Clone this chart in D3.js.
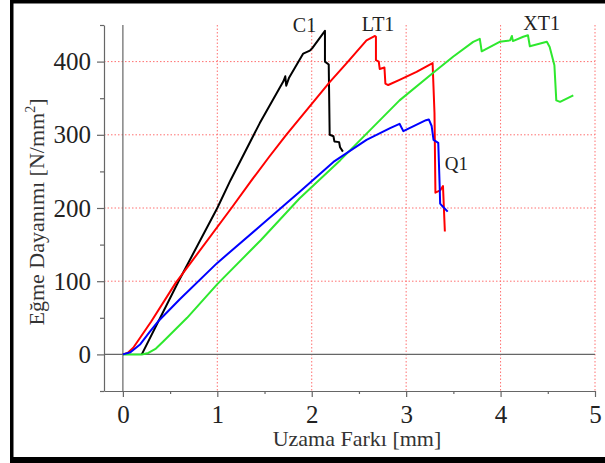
<html>
  <head>
    <meta charset="utf-8">
    <script src="https://d3js.org/d3.v7.min.js"></script>
    <style>
      body { margin: 0; background: #fff; }
      svg text { font-family: "Liberation Serif", "Times New Roman", "DejaVu Serif", serif !important; }
    </style>
  </head>
  <body>
    <div id="my_dataviz"></div>
  </body>

  <script>
    // curves: [Uzama Farkı mm, Eğme Dayanımı N/mm2]
    const C1 = [[0.20,0],[0.59,100],[1.00,200],[1.14,238],[1.45,316],[1.70,373],[1.72,380],[1.73,367],
      [1.76,378],[1.91,411],[1.98,415],[2.01,419],[2.14,442],[2.14,400],[2.18,396],[2.19,300],
      [2.23,298],[2.24,291],[2.29,290],[2.30,283],[2.33,277]]
    const LT1 = [[0,0],[0.05,2],[0.11,9],[0.30,45],[0.556,97],[1.15,200],[1.37,239],[1.55,270],
      [1.73,300],[2.19,372],[2.37,398],[2.58,429],[2.67,435],[2.68,434],[2.68,402],[2.71,400],
      [2.72,390],[2.77,392],[2.78,370],[2.81,368],[2.93,375],[3.11,386],[3.28,398],[3.30,330],
      [3.31,221],[3.36,224],[3.39,230],[3.41,168]]
    const Q1 = [[0,0],[0.08,3],[0.185,14],[0.28,30],[0.38,46],[0.60,75],[1.00,125],[1.46,176],[1.87,222],
      [2.23,263],[2.58,293],[2.83,309],[2.93,315],[2.97,305],[3.21,320],[3.24,321],[3.27,312],
      [3.29,293],[3.34,289],[3.355,230],[3.36,206],[3.38,203],[3.44,195]]
    const XT1 = [[0,0],[0.10,0],[0.20,0],[0.27,2],[0.35,8],[0.43,18],[0.68,50],[1.00,96],[1.46,156],
      [1.87,213],[2.30,265],[2.93,347],[3.28,384],[3.50,407],[3.71,427],[3.78,431],[3.80,414],
      [3.99,427],[4.10,429],[4.12,435],[4.13,428],[4.24,434],[4.29,436],[4.31,421],[4.49,427],
      [4.52,420],[4.57,395],[4.59,347],[4.63,345],[4.77,354]]

    const seriesNames = ['C1', 'LT1', 'XT1', 'Q1']
    const seriesData = [C1, LT1, XT1, Q1]
    const seriesColors = ['#000000', '#ff0000', '#2ee82e', '#0000ff']
    // where each curve name sits, in data units
    const labelAt = [[1.80, 441], [2.53, 442], [4.24, 443], [3.41, 252]]

    const xTicks = [0, 1, 2, 3, 4, 5]
    const xMinor = [0.5, 1.5, 2.5, 3.5, 4.5]
    const yTicks = [0, 100, 200, 300, 400]
    const yMinor = [-50, 50, 150, 250, 350, 450]

    const W = 605, H = 463

    const svg = d3.select("#my_dataviz")
      .append("svg")
        .attr("width", W)
        .attr("height", H)

    // black frame round the picture
    svg.append("rect").attr("x", 10).attr("y", 0).attr("width", W).attr("height", H).attr("fill", "#000")
    svg.append("rect").attr("x", 13.5).attr("y", 3.5).attr("width", W).attr("height", 453.5).attr("fill", "#fff")

    const x = d3.scaleLinear().domain([-0.2, 5]).range([104, 595])
    const y = d3.scaleLinear().domain([-50, 450]).range([391, 25])

    // red dotted grid
    svg.append("g")
      .selectAll("line")
      .data(xTicks.filter(d => d !== 0))
      .join("line")
        .attr("x1", d => x(d)).attr("x2", d => x(d))
        .attr("y1", y(450)).attr("y2", y(-50))
        .attr("stroke", "#ff7070").attr("stroke-width", 1)
        .attr("stroke-dasharray", "1.5,2")
    svg.append("g")
      .selectAll("line")
      .data(yTicks.filter(d => d !== 0))
      .join("line")
        .attr("x1", x(-0.2)).attr("x2", x(5))
        .attr("y1", d => y(d)).attr("y2", d => y(d))
        .attr("stroke", "#ff7070").attr("stroke-width", 1)
        .attr("stroke-dasharray", "1.5,2")

    // zero lines
    svg.append("line")
      .attr("x1", x(0)).attr("x2", x(0)).attr("y1", y(450)).attr("y2", y(-50))
      .attr("stroke", "#666").attr("stroke-width", 1.2)
    svg.append("line")
      .attr("x1", x(-0.2)).attr("x2", x(5)).attr("y1", y(0)).attr("y2", y(0))
      .attr("stroke", "#666").attr("stroke-width", 1.2)

    // axes
    svg.append("g")
      .attr("transform", `translate(0,${y(-50)})`)
      .call(d3.axisBottom(x).tickValues(xTicks).tickFormat(d3.format("d"))
        .tickSize(6).tickSizeOuter(0).tickPadding(8))
    svg.append("g")
      .attr("transform", `translate(0,${y(-50)})`)
      .call(d3.axisBottom(x).tickValues(xMinor).tickSize(3).tickSizeOuter(0).tickFormat(""))
      .select(".domain").remove()
    svg.append("g")
      .attr("transform", `translate(${x(-0.2)},0)`)
      .call(d3.axisLeft(y).tickValues(yTicks).tickFormat(d3.format("d"))
        .tickSize(7).tickSizeOuter(0).tickPadding(6))
    svg.append("g")
      .attr("transform", `translate(${x(-0.2)},0)`)
      .call(d3.axisLeft(y).tickValues(yMinor).tickSize(4).tickSizeOuter(0).tickFormat(""))
      .select(".domain").remove()

    svg.selectAll(".domain, .tick line").attr("stroke", "#666").attr("stroke-width", 1.2)
    svg.selectAll(".tick text")
      .attr("font-size", "25px")
      .attr("fill", "#222")

    // curves
    const line = d3.line().x(d => x(d[0])).y(d => y(d[1]))
    svg.append("g")
      .selectAll("path")
      .data(seriesData)
      .join("path")
        .attr("d", d => line(d))
        .attr("fill", "none")
        .attr("stroke", (d, i) => seriesColors[i])
        .attr("stroke-width", 2)
        .attr("stroke-linejoin", "round")

    svg.append("g")
      .selectAll("text")
      .data(seriesNames)
      .join("text")
        .attr("x", (d, i) => x(labelAt[i][0]))
        .attr("y", (d, i) => y(labelAt[i][1]))
        .attr("font-size", (d, i) => i === 3 ? "19px" : "20px")
        .attr("fill", "#222")
        .text(d => d)

    // axis titles
    svg.append("text")
      .attr("x", 357).attr("y", 446)
      .attr("text-anchor", "middle")
      .attr("font-size", "22px")
      .attr("fill", "#333")
      .text("Uzama Farkı [mm]")

    const yt = svg.append("text")
      .attr("transform", "translate(44,212) rotate(-90)")
      .attr("text-anchor", "middle")
      .attr("font-size", "22px")
      .attr("fill", "#333")
    yt.append("tspan").text("Eğme Dayanımı [N/mm")
    yt.append("tspan").attr("font-size", "14px").attr("dy", -9).text("2")
    yt.append("tspan").attr("dy", 9).text("]")
  </script>
</html>
